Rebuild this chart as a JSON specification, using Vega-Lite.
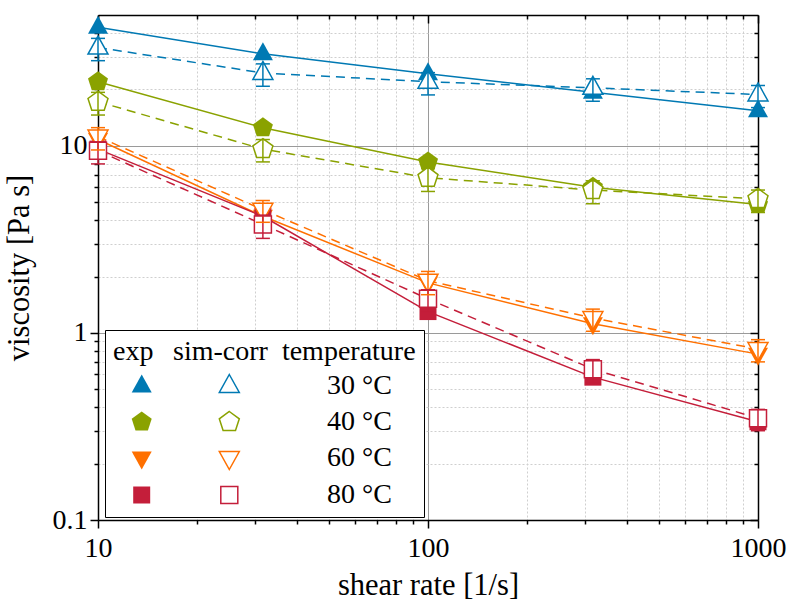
{
  "$schema": "https://vega.github.io/schema/vega-lite/v6.json",
  "width": 660,
  "height": 505,
  "autosize": {"type": "none"},
  "padding": {"left": 98, "top": 15, "right": 30, "bottom": 81},
  "background": "white",
  "config": {
    "view": {"stroke": null},
    "axis": {
      "domainColor": "black", "domainWidth": 1.5, "tickColor": "black", "tickWidth": 1.5,
      "labelFont": "Liberation Serif", "labelFontSize": 28, "labelColor": "black",
      "titleFont": "Liberation Serif", "titleFontSize": 30.5, "titleFontWeight": "normal", "titleColor": "black"
    },
    "legend": {
      "labelFont": "Liberation Serif", "labelFontSize": 28, "labelColor": "black", "labelLimit": 400,
      "titleFont": "Liberation Serif", "titleFontSize": 28, "titleFontWeight": "normal", "titleColor": "black", "titleLimit": 1000
    }
  },
  "data": {
    "values": [
      {"rate": 10, "temp": "30 °C", "type": "exp", "visc": 43},
      {"rate": 31.6, "temp": "30 °C", "type": "exp", "visc": 31},
      {"rate": 100, "temp": "30 °C", "type": "exp", "visc": 24.3},
      {"rate": 316, "temp": "30 °C", "type": "exp", "visc": 19.3},
      {"rate": 1000, "temp": "30 °C", "type": "exp", "visc": 15.4},
      {"rate": 10, "temp": "40 °C", "type": "exp", "visc": 22},
      {"rate": 31.6, "temp": "40 °C", "type": "exp", "visc": 12.5},
      {"rate": 100, "temp": "40 °C", "type": "exp", "visc": 8.2},
      {"rate": 316, "temp": "40 °C", "type": "exp", "visc": 6.0},
      {"rate": 1000, "temp": "40 °C", "type": "exp", "visc": 4.85},
      {"rate": 10, "temp": "60 °C", "type": "exp", "visc": 10.8},
      {"rate": 31.6, "temp": "60 °C", "type": "exp", "visc": 4.2},
      {"rate": 100, "temp": "60 °C", "type": "exp", "visc": 1.85},
      {"rate": 316, "temp": "60 °C", "type": "exp", "visc": 1.12},
      {"rate": 1000, "temp": "60 °C", "type": "exp", "visc": 0.77},
      {"rate": 10, "temp": "80 °C", "type": "exp", "visc": 9.6},
      {"rate": 31.6, "temp": "80 °C", "type": "exp", "visc": 4.2},
      {"rate": 100, "temp": "80 °C", "type": "exp", "visc": 1.3},
      {"rate": 316, "temp": "80 °C", "type": "exp", "visc": 0.58},
      {"rate": 1000, "temp": "80 °C", "type": "exp", "visc": 0.335},
      {"rate": 10, "temp": "30 °C", "type": "sim", "visc": 33.5, "lo": 28.5, "hi": 37.5},
      {"rate": 31.6, "temp": "30 °C", "type": "sim", "visc": 24.5, "lo": 20.8, "hi": 27.4},
      {"rate": 100, "temp": "30 °C", "type": "sim", "visc": 22, "lo": 18.7, "hi": 24.6},
      {"rate": 316, "temp": "30 °C", "type": "sim", "visc": 20.4, "lo": 17.3, "hi": 22.8},
      {"rate": 1000, "temp": "30 °C", "type": "sim", "visc": 18.8, "lo": 16, "hi": 21},
      {"rate": 10, "temp": "40 °C", "type": "sim", "visc": 17.2, "lo": 14.6, "hi": 19.3},
      {"rate": 31.6, "temp": "40 °C", "type": "sim", "visc": 9.6, "lo": 8.2, "hi": 10.8},
      {"rate": 100, "temp": "40 °C", "type": "sim", "visc": 6.75, "lo": 5.7, "hi": 7.6},
      {"rate": 316, "temp": "40 °C", "type": "sim", "visc": 5.8, "lo": 4.9, "hi": 6.5},
      {"rate": 1000, "temp": "40 °C", "type": "sim", "visc": 5.2, "lo": 4.4, "hi": 5.8},
      {"rate": 10, "temp": "60 °C", "type": "sim", "visc": 11.2, "lo": 9.5, "hi": 12.5},
      {"rate": 31.6, "temp": "60 °C", "type": "sim", "visc": 4.55, "lo": 3.9, "hi": 5.1},
      {"rate": 100, "temp": "60 °C", "type": "sim", "visc": 1.9, "lo": 1.6, "hi": 2.13},
      {"rate": 316, "temp": "60 °C", "type": "sim", "visc": 1.2, "lo": 1.02, "hi": 1.34},
      {"rate": 1000, "temp": "60 °C", "type": "sim", "visc": 0.82, "lo": 0.7, "hi": 0.92},
      {"rate": 10, "temp": "80 °C", "type": "sim", "visc": 9.4, "lo": 8.0, "hi": 10.5},
      {"rate": 31.6, "temp": "80 °C", "type": "sim", "visc": 3.8, "lo": 3.2, "hi": 4.26},
      {"rate": 100, "temp": "80 °C", "type": "sim", "visc": 1.52, "lo": 1.29, "hi": 1.7},
      {"rate": 316, "temp": "80 °C", "type": "sim", "visc": 0.64, "lo": 0.54, "hi": 0.72},
      {"rate": 1000, "temp": "80 °C", "type": "sim", "visc": 0.35, "lo": 0.3, "hi": 0.39}
    ]
  },
  "resolve": {
    "scale": {"fill": "independent", "stroke": "independent", "shape": "independent"},
    "axis": {"x": "independent", "y": "independent"}
  },
  "layer": [
    {
      "mark": {"type": "point", "opacity": 0},
      "encoding": {
        "x": {"field": "rate", "type": "quantitative", "scale": {"type": "log", "domain": [10, 1000], "nice": false},
          "axis": {"orient": "top", "values": [10,20,30,40,50,60,70,80,90,100,200,300,400,500,600,700,800,900,1000], "labels": false, "grid": false, "title": null,
            "tickSize": {"condition": {"test": "indexof([10,100,1000], datum.value) >= 0", "value": -8}, "value": -4}}},
        "y": {"field": "visc", "type": "quantitative", "scale": {"type": "log", "domain": [0.1, 50], "nice": false},
          "axis": {"orient": "right", "values": [0.1,0.2,0.3,0.4,0.5,0.6,0.7,0.8,0.9,1,2,3,4,5,6,7,8,9,10,20,30,40], "labels": false, "grid": false, "title": null,
            "tickSize": {"condition": {"test": "indexof([0.1,1,10], datum.value) >= 0", "value": -8}, "value": -4}}}
      }
    },
    {
      "transform": [{"filter": "datum.type === 'exp'"}],
      "mark": {"type": "line", "strokeWidth": 1.5},
      "encoding": {
        "x": {"field": "rate", "type": "quantitative", "scale": {"type": "log", "domain": [10, 1000], "nice": false},
          "axis": {"orient": "bottom", "values": [10,20,30,40,50,60,70,80,90,100,200,300,400,500,600,700,800,900,1000],
            "labelExpr": "indexof([10,100,1000], datum.value) >= 0 ? toString(datum.value) : ''",
            "labelOverlap": false, "labelFlush": false, "labelBound": false, "labelPadding": 6,
            "title": "shear rate [1/s]", "titlePadding": 8,
            "grid": true, "gridWidth": 1,
            "gridColor": {"condition": {"test": "indexof([10,100,1000], datum.value) >= 0", "value": "#9a9a9a"}, "value": "#cfcfcf"},
            "gridDash": {"condition": {"test": "indexof([10,100,1000], datum.value) >= 0", "value": []}, "value": [2, 2]},
            "tickSize": {"condition": {"test": "indexof([10,100,1000], datum.value) >= 0", "value": 8}, "value": 4}}},
        "y": {"field": "visc", "type": "quantitative", "scale": {"type": "log", "domain": [0.1, 50], "nice": false},
          "axis": {"orient": "left", "values": [0.1,0.2,0.3,0.4,0.5,0.6,0.7,0.8,0.9,1,2,3,4,5,6,7,8,9,10,20,30,40],
            "labelExpr": "indexof([0.1,1,10], datum.value) >= 0 ? toString(datum.value) : ''",
            "labelOverlap": false, "labelFlush": false, "labelBound": false, "labelPadding": 3,
            "title": "viscosity [Pa s]", "titlePadding": 18,
            "grid": true, "gridWidth": 1,
            "gridColor": {"condition": {"test": "indexof([0.1,1,10], datum.value) >= 0", "value": "#9a9a9a"}, "value": "#cfcfcf"},
            "gridDash": {"condition": {"test": "indexof([0.1,1,10], datum.value) >= 0", "value": []}, "value": [2, 2]},
            "tickSize": {"condition": {"test": "indexof([0.1,1,10], datum.value) >= 0", "value": 8}, "value": 4}}},
        "color": {"field": "temp", "type": "nominal", "legend": null,
          "scale": {"range": ["#0079b3", "#8aa200", "#ff7000", "#c41e3a"]}}
      }
    },
    {
      "transform": [{"filter": "datum.type === 'sim'"}],
      "mark": {"type": "line", "strokeWidth": 1.5, "strokeDash": [9, 6]},
      "encoding": {
        "x": {"field": "rate", "type": "quantitative", "scale": {"type": "log", "domain": [10, 1000], "nice": false}, "axis": null},
        "y": {"field": "visc", "type": "quantitative", "scale": {"type": "log", "domain": [0.1, 50], "nice": false}, "axis": null},
        "color": {"field": "temp", "type": "nominal", "legend": null,
          "scale": {"range": ["#0079b3", "#8aa200", "#ff7000", "#c41e3a"]}}
      }
    },
    {
      "transform": [{"filter": "datum.type === 'exp'"}],
      "mark": {"type": "point", "filled": true, "opacity": 1, "size": 400, "strokeWidth": 0},
      "encoding": {
        "x": {"field": "rate", "type": "quantitative", "scale": {"type": "log", "domain": [10, 1000], "nice": false}, "axis": null},
        "y": {"field": "visc", "type": "quantitative", "scale": {"type": "log", "domain": [0.1, 50], "nice": false}, "axis": null},
        "shape": {"field": "temp", "type": "nominal",
          "scale": {"domain": ["30 °C", "40 °C", "60 °C", "80 °C"], "range": [
            "M0,-1.15L1,0.65L-1,0.65Z",
            "M0,-1.05L1,-0.32L0.62,0.85L-0.62,0.85L-1,-0.32Z",
            "M0,1.15L1,-0.65L-1,-0.65Z",
            "M-0.85,-0.85L0.85,-0.85L0.85,0.85L-0.85,0.85Z"]},
          "legend": {
            "title": "\u00a0\u2009exp\u00a0\u00a0\u2009sim-corr\u00a0\u00a0temperature",
            "orient": "none", "legendX": 7, "legendY": 315,
            "padding": 8, "strokeColor": "black", "fillColor": "white", "cornerRadius": 0,
            "symbolSize": 400, "symbolOffset": 14.7, "labelOffset": 171.3, "rowPadding": 8, "titlePadding": 6,
            "zindex": 1
          }},
        "fill": {"field": "temp", "type": "nominal",
          "scale": {"domain": ["30 °C", "40 °C", "60 °C", "80 °C"], "range": ["#0079b3", "#8aa200", "#ff7000", "#c41e3a"]},
          "legend": {
            "title": "\u00a0\u2009exp\u00a0\u00a0\u2009sim-corr\u00a0\u00a0temperature",
            "orient": "none", "legendX": 7, "legendY": 315,
            "padding": 8, "strokeColor": "black", "fillColor": "white", "cornerRadius": 0,
            "symbolSize": 400, "symbolOffset": 14.7, "labelOffset": 171.3, "rowPadding": 8, "titlePadding": 6,
            "zindex": 1
          }}
      }
    },
    {
      "transform": [{"filter": "datum.type === 'sim'"}],
      "mark": {"type": "point", "filled": false, "fill": "white", "opacity": 1, "fillOpacity": 1, "size": 400, "strokeWidth": 1.5},
      "encoding": {
        "x": {"field": "rate", "type": "quantitative", "scale": {"type": "log", "domain": [10, 1000], "nice": false}, "axis": null},
        "y": {"field": "visc", "type": "quantitative", "scale": {"type": "log", "domain": [0.1, 50], "nice": false}, "axis": null},
        "shape": {"field": "temp", "type": "nominal",
          "scale": {"domain": ["30 °C", "40 °C", "60 °C", "80 °C"], "range": [
            "M0,-1.15L1,0.65L-1,0.65Z",
            "M0,-1.05L1,-0.32L0.62,0.85L-0.62,0.85L-1,-0.32Z",
            "M0,1.15L1,-0.65L-1,-0.65Z",
            "M-0.85,-0.85L0.85,-0.85L0.85,0.85L-0.85,0.85Z"]},
          "legend": {
            "title": null,
            "labelOpacity": 0,
            "orient": "none", "legendX": 94.6, "legendY": 349,
            "padding": 8, "cornerRadius": 0,
            "symbolSize": 400, "symbolOffset": 14.7, "labelOffset": 171.3, "rowPadding": 8,
            "symbolStrokeWidth": 1.5, "symbolFillColor": "white",
            "zindex": 2
          }},
        "stroke": {"field": "temp", "type": "nominal",
          "scale": {"domain": ["30 °C", "40 °C", "60 °C", "80 °C"], "range": ["#0079b3", "#8aa200", "#ff7000", "#c41e3a"]},
          "legend": {
            "title": null,
            "labelOpacity": 0,
            "orient": "none", "legendX": 94.6, "legendY": 349,
            "padding": 8, "cornerRadius": 0,
            "symbolSize": 400, "symbolOffset": 14.7, "labelOffset": 171.3, "rowPadding": 8,
            "symbolStrokeWidth": 1.5, "symbolFillColor": "white",
            "zindex": 2
          }}
      }
    },
    {
      "transform": [{"filter": "datum.type === 'sim'"}],
      "mark": {"type": "rule", "strokeWidth": 1.5},
      "encoding": {
        "x": {"field": "rate", "type": "quantitative", "scale": {"type": "log", "domain": [10, 1000], "nice": false}, "axis": null},
        "y": {"field": "lo", "type": "quantitative", "scale": {"type": "log", "domain": [0.1, 50], "nice": false}, "axis": null},
        "y2": {"field": "hi"},
        "color": {"field": "temp", "type": "nominal", "legend": null}
      }
    },
    {
      "transform": [{"filter": "datum.type === 'sim'"}],
      "mark": {"type": "tick", "orient": "horizontal", "size": 14, "thickness": 1.5, "opacity": 1},
      "encoding": {
        "x": {"field": "rate", "type": "quantitative", "scale": {"type": "log", "domain": [10, 1000], "nice": false}, "axis": null},
        "y": {"field": "lo", "type": "quantitative", "scale": {"type": "log", "domain": [0.1, 50], "nice": false}, "axis": null},
        "color": {"field": "temp", "type": "nominal", "legend": null}
      }
    },
    {
      "transform": [{"filter": "datum.type === 'sim'"}],
      "mark": {"type": "tick", "orient": "horizontal", "size": 14, "thickness": 1.5, "opacity": 1},
      "encoding": {
        "x": {"field": "rate", "type": "quantitative", "scale": {"type": "log", "domain": [10, 1000], "nice": false}, "axis": null},
        "y": {"field": "hi", "type": "quantitative", "scale": {"type": "log", "domain": [0.1, 50], "nice": false}, "axis": null},
        "color": {"field": "temp", "type": "nominal", "legend": null}
      }
    }
  ]
}
